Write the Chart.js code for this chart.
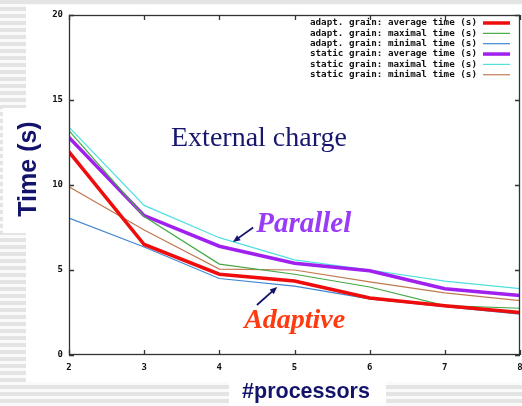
<!DOCTYPE html>
<html>
<head>
<meta charset="utf-8">
<script src="https://cdn.jsdelivr.net/npm/chart.js@4.4.1/dist/chart.umd.min.js"></script>
<style>
  html, body { margin: 0; padding: 0; overflow: hidden; background: #fff; }
  #wrap { width: 522px; height: 406px; position: relative; }
</style>
</head>
<body>
<div id="wrap"><canvas id="myChart"></canvas></div>
<script>
// values
const processors = [2, 3, 4, 5, 6, 7, 8];
const adaptAvg = [11.95, 6.5, 4.75, 4.35, 3.35, 2.9, 2.5];
const adaptMax = [13.2, 8.15, 5.35, 4.75, 4.0, 2.9, 2.75];
const adaptMin = [8.05, 6.35, 4.5, 4.05, 3.3, 2.85, 2.4];
const staticAvg = [12.8, 8.2, 6.4, 5.4, 4.95, 3.9, 3.5];
const staticMax = [13.4, 8.8, 6.9, 5.6, 5.0, 4.35, 3.9];
const staticMin = [9.9, 7.35, 5.05, 5.0, 4.3, 3.65, 3.2];
const yTicks = [0, 5, 10, 15, 20];
const xTicks = [2, 3, 4, 5, 6, 7, 8];

const seriesLabels = [
  'adapt. grain: average time (s)',
  'adapt. grain: maximal time (s)',
  'adapt. grain: minimal time (s)',
  'static grain: average time (s)',
  'static grain: maximal time (s)',
  'static grain: minimal time (s)'
];
const seriesValues = [adaptAvg, adaptMax, adaptMin, staticAvg, staticMax, staticMin];
const seriesColors = ['#ee0c0c', '#44a844', '#3f86d2', '#a020ee', '#4fe0e0', '#c07a50'];
const seriesWidths = [3.5, 1.2, 1.2, 3.5, 1.2, 1.2];

// annotations, placed in data units
const notes = [
  { text: 'External charge', x: 3.357, y: 12.3, font: '28px "Liberation Serif"', color: '#17176e' },
  { text: 'Parallel', x: 4.49, y: 7.25, font: 'bold italic 29px "Liberation Serif"', color: '#9a3cf6' },
  { text: 'Adaptive', x: 4.33, y: 1.6, font: 'bold italic 28px "Liberation Serif"', color: '#ff3a10' }
];
const arrows = [
  { from: [4.45, 7.5], to: [4.18, 6.65] },
  { from: [4.5, 2.94], to: [4.77, 4.0] }
];

const navy = '#13136b';

const slide = {
  id: 'slide',
  beforeDraw(chart) {
    const c = chart.ctx;
    const w = chart.width, h = chart.height;
    c.save();
    c.fillStyle = '#fafafa';
    c.fillRect(0, 0, w, h);
    c.fillStyle = '#e4e4e4';
    for (let y = 0; y < h; y += 7) c.fillRect(0, y, w, 4);
    c.fillStyle = '#fff';
    c.fillRect(26, 5, w - 26, 377);
    c.fillRect(3, 108, 24, 125);
    c.fillRect(229, 382, 157, h - 382);
    c.restore();
  },
  afterDraw(chart) {
    const c = chart.ctx;
    const a = chart.chartArea;
    const xs = chart.scales.x, ys = chart.scales.y;
    c.save();
    // frame + mirrored inward ticks
    c.strokeStyle = '#333';
    c.lineWidth = 1.3;
    c.strokeRect(a.left + 0.5, a.top + 0.5, a.right - a.left - 1, a.bottom - a.top - 1);
    c.beginPath();
    yTicks.forEach(v => {
      const py = Math.round(ys.getPixelForValue(v)) + 0.5;
      c.moveTo(a.left, py); c.lineTo(a.left + 5, py);
      c.moveTo(a.right, py); c.lineTo(a.right - 5, py);
    });
    xTicks.forEach(v => {
      const px = Math.round(xs.getPixelForValue(v)) + 0.5;
      c.moveTo(px, a.bottom); c.lineTo(px, a.bottom - 5);
      c.moveTo(px, a.top); c.lineTo(px, a.top + 5);
    });
    c.stroke();

    // gnuplot-style key
    c.font = 'bold 9.25px "DejaVu Sans Mono"';
    c.textAlign = 'right';
    c.textBaseline = 'middle';
    chart.data.datasets.forEach((ds, i) => {
      const y = a.top + 8 + i * 10.35;
      c.fillStyle = '#111';
      c.fillText(ds.label, a.right - 43, y);
      c.strokeStyle = ds.borderColor;
      c.lineWidth = ds.borderWidth;
      c.beginPath();
      c.moveTo(a.right - 37, y); c.lineTo(a.right - 10, y);
      c.stroke();
    });

    // notes
    c.textAlign = 'left';
    c.textBaseline = 'alphabetic';
    notes.forEach(n => {
      c.font = n.font;
      c.fillStyle = n.color;
      c.fillText(n.text, xs.getPixelForValue(n.x), ys.getPixelForValue(n.y));
    });

    // arrows
    c.strokeStyle = navy;
    c.fillStyle = navy;
    c.lineWidth = 1.8;
    arrows.forEach(ar => {
      const x1 = xs.getPixelForValue(ar.from[0]), y1 = ys.getPixelForValue(ar.from[1]);
      const x2 = xs.getPixelForValue(ar.to[0]), y2 = ys.getPixelForValue(ar.to[1]);
      const ang = Math.atan2(y2 - y1, x2 - x1);
      c.beginPath();
      c.moveTo(x1, y1);
      c.lineTo(x2 - 4 * Math.cos(ang), y2 - 4 * Math.sin(ang));
      c.stroke();
      c.beginPath();
      c.moveTo(x2, y2);
      c.lineTo(x2 - 8 * Math.cos(ang - 0.4), y2 - 8 * Math.sin(ang - 0.4));
      c.lineTo(x2 - 8 * Math.cos(ang + 0.4), y2 - 8 * Math.sin(ang + 0.4));
      c.closePath();
      c.fill();
    });

    // axis titles
    c.fillStyle = navy;
    c.font = 'bold 21.5px "Liberation Sans"';
    c.textAlign = 'center';
    c.fillText('#processors', 306, 398);
    c.translate(29.5, 169);
    c.rotate(-Math.PI / 2);
    c.font = 'bold 25px "Liberation Sans"';
    c.textBaseline = 'middle';
    c.fillText('Time (s)', 0, 0);
    c.restore();
  }
};

const tickFont = { family: 'DejaVu Sans Mono', size: 9, weight: 'bold' };

new Chart(document.getElementById('myChart'), {
  type: 'line',
  data: {
    datasets: seriesValues.map((vals, i) => ({
      label: seriesLabels[i],
      data: vals.map((v, j) => ({ x: processors[j], y: v })),
      borderColor: seriesColors[i],
      backgroundColor: seriesColors[i],
      borderWidth: seriesWidths[i],
      pointRadius: 0,
      tension: 0,
      fill: false
    }))
  },
  options: {
    responsive: true,
    maintainAspectRatio: false,
    animation: false,
    layout: { padding: { left: 0, right: 2, top: 15, bottom: 0 } },
    plugins: { legend: { display: false }, tooltip: { enabled: false } },
    scales: {
      x: {
        type: 'linear',
        min: 2,
        max: 8,
        grid: { display: false, drawTicks: false },
        border: { display: false },
        ticks: { stepSize: 1, font: tickFont, color: '#111', padding: 7, maxRotation: 0 },
        afterFit(s) { s.height = 51; s.paddingLeft = 0; s.paddingRight = 0; }
      },
      y: {
        min: 0,
        max: 20,
        grid: { display: false, drawTicks: false },
        border: { display: false },
        ticks: { stepSize: 5, font: tickFont, color: '#111', padding: 6 },
        afterFit(s) { s.width = 69; s.paddingTop = 0; s.paddingBottom = 0; }
      }
    }
  },
  plugins: [slide]
});
</script>
</body>
</html>
